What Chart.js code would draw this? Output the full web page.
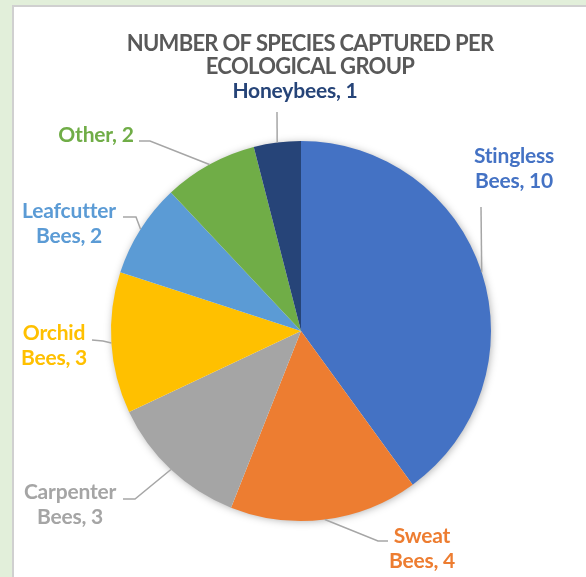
<!DOCTYPE html>
<html>
<head>
<meta charset="utf-8">
<script src="https://cdn.jsdelivr.net/npm/chart.js@4"></script>
<style>
  html, body { margin: 0; padding: 0; background: #e2efda; }
  #wrap { width: 586px; height: 577px; position: relative; }
</style>
</head>
<body>
<div id="wrap"><canvas id="chart-pie"></canvas></div>
<script>
'use strict';

/* ── Dados ── */
const CATEGORIES = ['Stingless Bees', 'Sweat Bees', 'Carpenter Bees', 'Orchid Bees', 'Leafcutter Bees', 'Other', 'Honeybees'];
const SPECIES    = [10, 4, 3, 3, 2, 2, 1];
const COLORS     = ['#4472C4', '#ED7D31', '#A5A5A5', '#FFC000', '#5B9BD5', '#70AD47', '#264478'];
const TITLE      = ['NUMBER OF SPECIES CAPTURED PER', 'ECOLOGICAL GROUP'];

/* ── Posição dos rótulos (centro do texto, 1ª linha de base) e cotovelos das linhas guia ── */
const LABEL_POS = [
  { x: 514, y: 163, bend: [[481, 207]] },
  { x: 422, y: 543, bend: [[378, 541], [388, 541]] },
  { x: 70,  y: 499, bend: [[135, 499], [123, 499]] },
  { x: 54,  y: 340, bend: [[103, 341], [92, 340]] },
  { x: 69,  y: 218, bend: [[136, 217], [123, 217]] },
  { x: 96,  y: 142, bend: [[150, 141], [139, 141]] },
  { x: 295, y: 98,  bend: [[277, 112]] },
];

const FONT = 'Lato, "Open Sans", sans-serif';

/** Quebra "Stingless Bees" em ["Stingless", "Bees, 10"] */
function labelLines(name, v) {
  const parts = name.split(' ');
  if (parts.length === 1) return [`${name}, ${v}`];
  return [parts[0], `${parts.slice(1).join(' ')}, ${v}`];
}

/* Fundo verde + painel branco com borda */
const panelPlugin = {
  id: 'panel',
  beforeDraw(chart) {
    const { ctx, width, height } = chart;
    ctx.save();
    ctx.fillStyle = '#e2efda';
    ctx.fillRect(0, 0, width, height);
    ctx.fillStyle = '#ffffff';
    ctx.fillRect(12, 5, width, height);
    ctx.strokeStyle = '#d0d0d0';
    ctx.lineWidth = 2;
    ctx.beginPath();
    ctx.moveTo(13, height);
    ctx.lineTo(13, 6);
    ctx.lineTo(width, 6);
    ctx.stroke();
    ctx.restore();
  },
};

/* Sombra suave atrás da pizza */
const shadowPlugin = {
  id: 'pieShadow',
  beforeDatasetsDraw(chart) {
    const arc = chart.getDatasetMeta(0).data[0];
    if (!arc) return;
    const { ctx } = chart;
    ctx.save();
    ctx.shadowColor = 'rgba(0,0,0,0.35)';
    ctx.shadowBlur = 9;
    ctx.shadowOffsetX = 1;
    ctx.shadowOffsetY = 1;
    ctx.fillStyle = '#ffffff';
    ctx.beginPath();
    ctx.arc(arc.x, arc.y, arc.outerRadius - 1, 0, Math.PI * 2);
    ctx.fill();
    ctx.restore();
  },
};

/* Título + rótulos com linhas guia */
const labelsPlugin = {
  id: 'outLabels',
  afterDraw(chart) {
    const { ctx } = chart;
    const meta = chart.getDatasetMeta(0);
    ctx.save();

    ctx.fillStyle = '#595959';
    ctx.font = `bold 22px ${FONT}`;
    ctx.letterSpacing = '-0.7px';
    ctx.textAlign = 'center';
    ctx.textBaseline = 'alphabetic';
    ctx.fillText(TITLE[0], 310, 51);
    ctx.fillText(TITLE[1], 310, 74);

    ctx.letterSpacing = '-0.2px';
    ctx.font = `bold 21px ${FONT}`;
    meta.data.forEach((arc, i) => {
      const pos = LABEL_POS[i];
      const mid = (arc.startAngle + arc.endAngle) / 2;
      const px = arc.x + Math.cos(mid) * arc.outerRadius;
      const py = arc.y + Math.sin(mid) * arc.outerRadius;

      ctx.strokeStyle = '#a6a6a6';
      ctx.lineWidth = 1.5;
      ctx.beginPath();
      ctx.moveTo(px, py);
      pos.bend.forEach(([bx, by]) => ctx.lineTo(bx, by));
      ctx.stroke();

      ctx.fillStyle = COLORS[i];
      labelLines(CATEGORIES[i], SPECIES[i]).forEach((t, k) => {
        ctx.fillText(t, pos.x, pos.y + k * 25);
      });
    });
    ctx.restore();
  },
};

new Chart(document.getElementById('chart-pie'), {
  type: 'pie',
  data: {
    labels: CATEGORIES,
    datasets: [{
      data: SPECIES,
      backgroundColor: COLORS,
      borderWidth: 0,
    }],
  },
  options: {
    responsive: true,
    maintainAspectRatio: false,
    animation: false,
    layout: { padding: { left: 111, right: 95, top: 141, bottom: 56 } },
    plugins: {
      legend: { display: false },
      tooltip: { enabled: false },
    },
  },
  plugins: [panelPlugin, shadowPlugin, labelsPlugin],
});
</script>
</body>
</html>
